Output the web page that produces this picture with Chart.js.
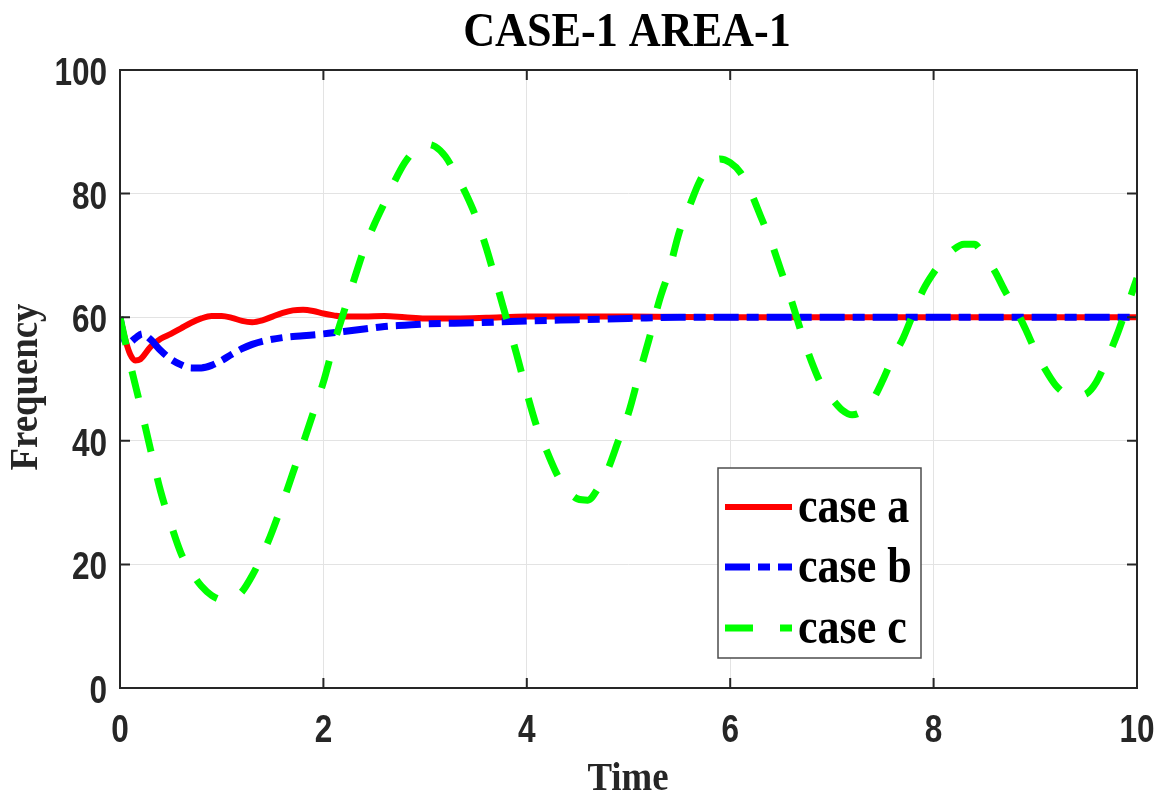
<!DOCTYPE html>
<html>
<head>
<meta charset="utf-8">
<script src="https://cdn.jsdelivr.net/npm/chart.js@4/dist/chart.umd.min.js"></script>
<style>
  html, body { margin: 0; padding: 0; background: #ffffff; }
  #wrap { width: 1162px; height: 797px; position: relative; }
</style>
</head>
<body>
<div id="wrap"><canvas id="c" width="1162" height="797"></canvas></div>
<script>
// ---- data ----
const titleText = "CASE-1 AREA-1";
const xLabel = "Time";
const yLabel = "Frequency";
const seriesNames = ["case a", "case b", "case c"];
const xTicks = [0, 2, 4, 6, 8, 10];
const yTicks = [0, 20, 40, 60, 80, 100];

const timeA = [0, 0.05, 0.1, 0.15, 0.2, 0.3, 0.4, 0.5, 0.6, 0.7, 0.8, 0.9, 1.0, 1.1, 1.2, 1.3, 1.4, 1.5, 1.6, 1.7, 1.8, 1.9, 2.0, 2.1, 2.2, 2.4, 2.6, 2.8, 3.0, 3.3, 3.6, 4.0, 4.5, 5.0, 6.0, 10];
const caseA = [60, 56.5, 54, 53, 53.2, 55.2, 56.5, 57.3, 58.2, 59.1, 59.8, 60.2, 60.2, 59.9, 59.4, 59.2, 59.5, 60.1, 60.7, 61.1, 61.2, 61.0, 60.6, 60.3, 60.1, 60.1, 60.2, 60.0, 59.8, 59.8, 59.9, 60.1, 60.1, 60.1, 60.0, 60.0];

const timeB = [0, 0.04, 0.08, 0.15, 0.22, 0.3, 0.4, 0.5, 0.6, 0.7, 0.8, 0.9, 1.0, 1.1, 1.2, 1.3, 1.4, 1.6, 1.8, 2.0, 2.2, 2.4, 2.6, 2.8, 3.0, 3.5, 4.0, 4.5, 5.0, 5.5, 10];
const caseB = [60, 56.5, 55.8, 56.6, 57.3, 56.4, 54.6, 53.2, 52.3, 51.8, 51.8, 52.2, 53.0, 54.0, 54.9, 55.6, 56.1, 56.7, 57.0, 57.3, 57.7, 58.1, 58.5, 58.7, 58.9, 59.1, 59.4, 59.6, 59.8, 60.0, 60.0];

const timeC = [0, 0.1, 0.2, 0.3, 0.4, 0.5, 0.6, 0.7, 0.8, 0.9,
  1.0, 1.1, 1.2, 1.3, 1.4, 1.5, 1.6, 1.7, 1.8, 1.9,
  2.0, 2.1, 2.2, 2.3, 2.4, 2.5, 2.6, 2.7, 2.8, 2.9,
  3.0, 3.1, 3.2, 3.3, 3.4, 3.5, 3.6, 3.7, 3.8, 3.9,
  4.0, 4.1, 4.2, 4.3, 4.4, 4.5, 4.6, 4.7, 4.8, 4.9,
  5.0, 5.1, 5.2, 5.3, 5.4, 5.5, 5.6, 5.7, 5.8, 5.9,
  6.0, 6.1, 6.2, 6.3, 6.4, 6.5, 6.6, 6.7, 6.8, 6.9,
  7.0, 7.1, 7.2, 7.3, 7.4, 7.5, 7.6, 7.7, 7.8, 7.9,
  8.0, 8.1, 8.2, 8.3, 8.4, 8.5, 8.6, 8.7, 8.8, 8.9,
  9.0, 9.1, 9.2, 9.3, 9.4, 9.5, 9.6, 9.7, 9.8, 9.9, 10.0];
const caseC = [60, 52.5, 45.7, 38.6, 31.8, 26.5, 21.8, 18.8, 16.5, 15.0,
  14.3, 14.4, 15.6, 18.2, 21.5, 25.5, 30.0, 34.8, 39.6, 44.5,
  49.5, 55.5, 60.8, 66.0, 71.0, 75.0, 78.5, 82.0, 85.0, 87.0,
  88.0, 87.6, 86.0, 83.2, 80.0, 76.2, 71.3, 65.6, 59.8, 54.0,
  47.8, 42.2, 38.2, 34.5, 32.0, 30.6, 30.4, 32.3, 35.5, 40.0,
  44.5, 50.5, 56.3, 62.5, 67.6, 73.8, 78.0, 82.0, 84.5, 85.6,
  85.0, 83.4, 80.3, 76.3, 72.3, 67.5, 62.8, 57.5, 52.8, 49.0,
  46.8, 45.0, 44.2, 44.8, 46.6, 49.8, 53.5, 56.6, 60.6, 64.5,
  67.2, 69.3, 71.0, 71.8, 71.8, 69.8, 67.5, 64.3, 61.5, 58.2,
  54.6, 51.5, 49.0, 47.6, 47.3, 47.6, 49.5, 53.0, 57.0, 61.6, 66.3];

const toXY = (xs, ys) => xs.map((x, i) => ({ x: x, y: ys[i] }));

const SERIF = '"Liberation Serif", "Times New Roman", serif';
const SANS = '"Liberation Sans", Arial, sans-serif';

function condensedText(ctx, text, x, y, sx) {
  ctx.save();
  ctx.translate(x, y);
  ctx.scale(sx, 1);
  ctx.fillText(text, 0, 0);
  ctx.restore();
}

const decoPlugin = {
  id: 'deco',
  beforeDraw(chart) {
    const ctx = chart.ctx;
    ctx.save();
    ctx.fillStyle = '#ffffff';
    ctx.fillRect(0, 0, chart.width, chart.height);
    ctx.restore();
  },
  afterDatasetsDraw(chart) {
    const { ctx, chartArea: a, scales } = chart;
    const xs = scales.x, ys = scales.y;
    ctx.save();
    // axes box
    ctx.strokeStyle = '#262626';
    ctx.lineWidth = 2;
    ctx.strokeRect(a.left, a.top, a.right - a.left, a.bottom - a.top);
    // inward ticks
    const tl = 10;
    ctx.beginPath();
    xTicks.forEach(v => {
      const px = xs.getPixelForValue(v);
      ctx.moveTo(px, a.bottom); ctx.lineTo(px, a.bottom - tl);
      ctx.moveTo(px, a.top); ctx.lineTo(px, a.top + tl);
    });
    yTicks.forEach(v => {
      const py = ys.getPixelForValue(v);
      ctx.moveTo(a.left, py); ctx.lineTo(a.left + tl, py);
      ctx.moveTo(a.right, py); ctx.lineTo(a.right - tl, py);
    });
    ctx.stroke();

    // tick labels (condensed bold sans, placed by the library's scales)
    ctx.fillStyle = '#262626';
    ctx.font = 'bold 38px ' + SANS;
    ctx.textBaseline = 'alphabetic';
    ctx.textAlign = 'right';
    yTicks.forEach(v => {
      const py = ys.getPixelForValue(v);
      condensedText(ctx, String(v), a.left - 13, py + 15, 0.83);
    });
    ctx.textAlign = 'center';
    xTicks.forEach(v => {
      const px = xs.getPixelForValue(v);
      condensedText(ctx, String(v), px, a.bottom + 54, 0.83);
    });

    // legend box (inside the plot)
    const lx = 718, ly = 468, lw = 203, lh = 190;
    ctx.fillStyle = '#ffffff';
    ctx.fillRect(lx, ly, lw, lh);
    ctx.strokeStyle = '#4d4d4d';
    ctx.lineWidth = 1.5;
    ctx.strokeRect(lx, ly, lw, lh);
    const rowY = [507, 567, 628];
    chart.data.datasets.forEach((ds, i) => {
      const yy = rowY[i];
      ctx.save();
      ctx.strokeStyle = ds.borderColor;
      ctx.lineWidth = ds.borderWidth;
      ctx.lineCap = 'butt';
      ctx.setLineDash(ds.borderDash || []);
      ctx.beginPath();
      ctx.moveTo(725, yy);
      ctx.lineTo(792, yy);
      ctx.stroke();
      ctx.restore();
      ctx.fillStyle = '#000000';
      ctx.font = 'bold 50px ' + SERIF;
      ctx.textAlign = 'left';
      ctx.textBaseline = 'alphabetic';
      condensedText(ctx, ds.label, 798, yy + 15, 0.88);
    });
    ctx.restore();
  },
  afterDraw(chart) {
    const ctx = chart.ctx;
    ctx.save();
    ctx.fillStyle = '#000000';
    ctx.textAlign = 'center';
    ctx.textBaseline = 'middle';
    ctx.font = 'bold 48px ' + SERIF;
    condensedText(ctx, titleText, 627, 34, 0.92);
    ctx.fillStyle = '#262626';
    ctx.font = 'bold 40px ' + SERIF;
    condensedText(ctx, xLabel, 628, 780, 0.92);
    ctx.translate(27, 387);
    ctx.rotate(-Math.PI / 2);
    ctx.font = 'bold 40px ' + SERIF;
    condensedText(ctx, yLabel, 0, 0, 0.92);
    ctx.restore();
  }
};

const chart = new Chart(document.getElementById('c'), {
  type: 'line',
  data: {
    datasets: [
      { label: seriesNames[0], data: toXY(timeA, caseA), borderColor: '#ff0000', borderWidth: 6,
        borderDash: [], pointRadius: 0, cubicInterpolationMode: 'monotone', fill: false, order: 3 },
      { label: seriesNames[1], data: toXY(timeB, caseB), borderColor: '#0000ff', borderWidth: 7,
        borderDash: [25, 8, 12, 8], pointRadius: 0, cubicInterpolationMode: 'monotone', fill: false, order: 2 },
      { label: seriesNames[2], data: toXY(timeC, caseC), borderColor: '#00ff00', borderWidth: 7,
        borderDash: [28, 27], pointRadius: 0, cubicInterpolationMode: 'monotone', fill: false, order: 1 }
    ]
  },
  options: {
    responsive: false,
    animation: false,
    devicePixelRatio: 1,
    layout: { padding: { top: 70, right: 25, left: 0, bottom: 0 } },
    plugins: { legend: { display: false }, title: { display: false }, tooltip: { enabled: false } },
    elements: { line: { borderCapStyle: 'butt', borderJoinStyle: 'round' } },
    scales: {
      x: {
        type: 'linear', min: 0, max: 10,
        afterFit: s => { s.height = 109; s.paddingLeft = 0; s.paddingRight = 0; },
        afterBuildTicks: s => { s.ticks = xTicks.map(v => ({ value: v })); },
        ticks: { display: false },
        grid: { color: '#e3e3e3', lineWidth: 1, drawTicks: false },
        border: { display: false }
      },
      y: {
        type: 'linear', min: 0, max: 100,
        afterFit: s => { s.width = 120; s.paddingTop = 0; s.paddingBottom = 0; },
        afterBuildTicks: s => { s.ticks = yTicks.map(v => ({ value: v })); },
        ticks: { display: false },
        grid: { color: '#e3e3e3', lineWidth: 1, drawTicks: false },
        border: { display: false }
      }
    }
  },
  plugins: [decoPlugin]
});
</script>
</body>
</html>
